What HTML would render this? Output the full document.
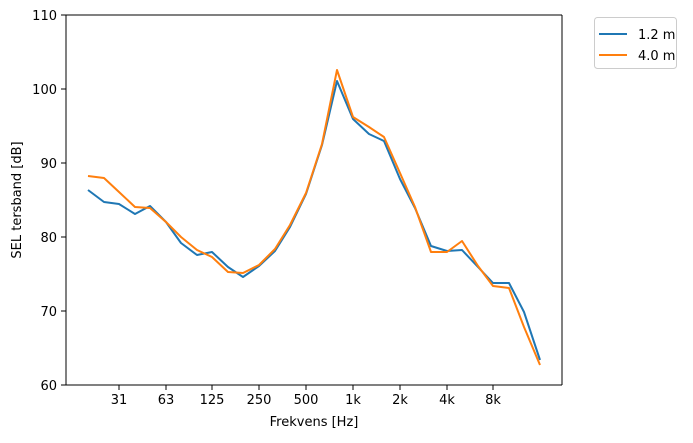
<!DOCTYPE html><html><head><style>body{margin:0;background:#fff}</style></head><body>
<svg width="693" height="438" xmlns="http://www.w3.org/2000/svg" font-family="DejaVu Sans, Liberation Sans, sans-serif" font-size="13">
<rect width="693" height="438" fill="#fff"/>
<g stroke="#000" stroke-width="1">
<line x1="66" y1="15" x2="66" y2="385"/><line x1="562" y1="15" x2="562" y2="385"/>
<line x1="66" y1="15" x2="562" y2="15"/><line x1="66" y1="385" x2="562" y2="385"/>
<g>
<line x1="61" y1="15" x2="66" y2="15"/><line x1="61" y1="89" x2="66" y2="89"/><line x1="61" y1="163" x2="66" y2="163"/><line x1="61" y1="237" x2="66" y2="237"/><line x1="61" y1="311" x2="66" y2="311"/><line x1="61" y1="385" x2="66" y2="385"/>
<line x1="119" y1="385" x2="119" y2="390"/><line x1="166" y1="385" x2="166" y2="390"/><line x1="212" y1="385" x2="212" y2="390"/><line x1="259" y1="385" x2="259" y2="390"/><line x1="306" y1="385" x2="306" y2="390"/><line x1="353" y1="385" x2="353" y2="390"/><line x1="400" y1="385" x2="400" y2="390"/><line x1="447" y1="385" x2="447" y2="390"/><line x1="493" y1="385" x2="493" y2="390"/>
</g></g>
<g text-anchor="end"><text x="57" y="20">110</text><text x="57" y="94">100</text><text x="57" y="168">90</text><text x="57" y="242">80</text><text x="57" y="316">70</text><text x="57" y="390">60</text></g>
<g text-anchor="middle"><text x="119" y="404">31</text><text x="166" y="404">63</text><text x="212" y="404">125</text><text x="259" y="404">250</text><text x="306" y="404">500</text><text x="353" y="404">1k</text><text x="400" y="404">2k</text><text x="447" y="404">4k</text><text x="493" y="404">8k</text>
<text x="314" y="426">Frekvens [Hz]</text>
<text transform="translate(21,200) rotate(-90)">SEL tersband [dB]</text></g>
<polyline fill="none" stroke="#1f77b4" stroke-width="2" stroke-linejoin="round" points="88,190 104,202 119,204 135,214 150,206 166,222 181,243 197,255 212,252 228,267 243,277 259,266 275,251 290,227 306,194 322,145 337,81 353,119 369,134 384,141 400,179 415,208 431,246 447,251 462,250 478,267 493,283 509,283 524,312 540,360"/>
<polyline fill="none" stroke="#ff7f0e" stroke-width="2" stroke-linejoin="round" points="88,176 104,178 119,192 135,207 150,208 166,222 181,237 197,250 212,257 228,272 243,273 259,265 275,249 290,225 306,193 322,144 337,70 353,117 369,127 384,137 400,173 415,207 431,252 447,252 462,241 478,266 493,286 509,288 524,327 540,365"/>
<rect x="594.5" y="17.5" width="82" height="51" rx="3" fill="#fff" stroke="#ccc"/>
<line x1="599" y1="34" x2="627" y2="34" stroke="#1f77b4" stroke-width="2"/>
<line x1="599" y1="55" x2="627" y2="55" stroke="#ff7f0e" stroke-width="2"/>
<text x="638" y="39">1.2 m</text><text x="638" y="60">4.0 m</text>
</svg></body></html>
